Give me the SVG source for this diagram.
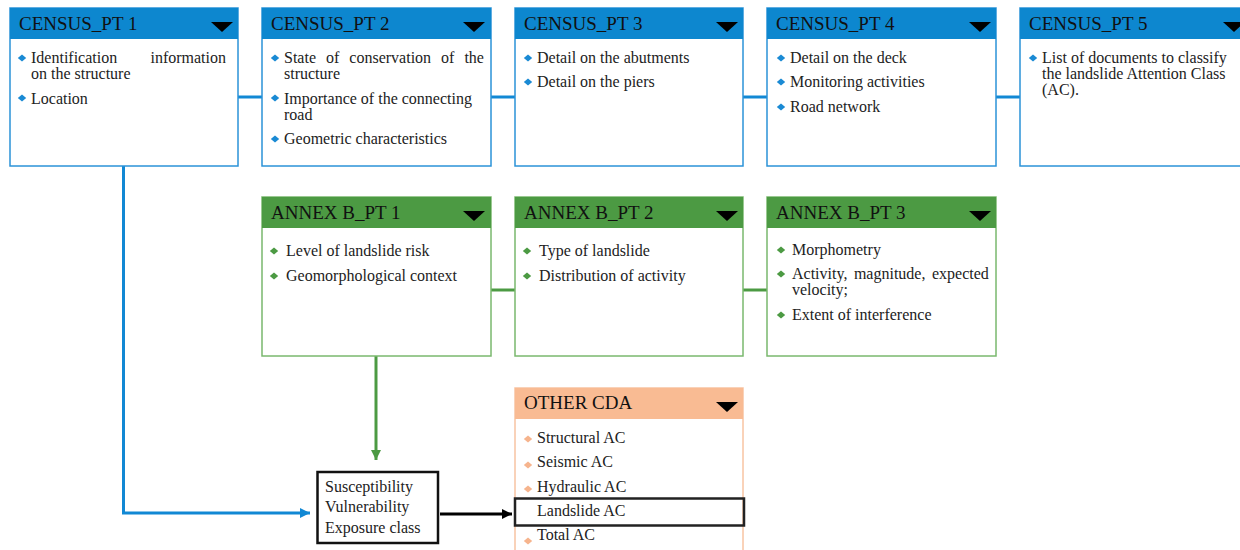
<svg xmlns="http://www.w3.org/2000/svg" xmlns:xlink="http://www.w3.org/1999/xlink" width="1240" height="550" viewBox="0 0 1240 550">
<style>
.title{font-family:"Liberation Serif","Times New Roman",serif;font-size:19px;fill:#111}
.item{font-family:"Liberation Serif","Times New Roman",serif;font-size:16px;fill:#222}
.cbody{fill:#fff;stroke:#2b93d8;stroke-width:1.5}
.chead{fill:#0d87cf}
.abody{fill:#fff;stroke:#7ab86e;stroke-width:1.5}
.ahead{fill:#4c9a43}
.obody{fill:#fff;stroke:#f8c4a2;stroke-width:1.5}
.ohead{fill:#f9bb93}
.tri{fill:#000}
.bb{fill:#1a8ad4}
.bg{fill:#4c9a43}
.bo{fill:#f6b48d}
.cl{fill:none;stroke:#1188d4;stroke-width:3}
.gl{fill:none;stroke:#4c9a43;stroke-width:3}
.kl{fill:none;stroke:#000;stroke-width:3}
</style>
<defs>
<path id="dm" d="M-4.2 0 L0 -3.5 L4.2 0 L0 3.5 Z"/>
<marker id="ab" viewBox="0 0 10 10" refX="10" refY="5" markerWidth="10" markerHeight="10" markerUnits="userSpaceOnUse" orient="auto"><path d="M0 0 L10 5 L0 10 Z" fill="#1188d4"/></marker>
<marker id="ag" viewBox="0 0 10 10" refX="10" refY="5" markerWidth="10" markerHeight="10" markerUnits="userSpaceOnUse" orient="auto"><path d="M0 0 L10 5 L0 10 Z" fill="#4c9a43"/></marker>
<marker id="ak" viewBox="0 0 10 10" refX="10" refY="5" markerWidth="10" markerHeight="10" markerUnits="userSpaceOnUse" orient="auto"><path d="M0 0 L10 5 L0 10 Z" fill="#000"/></marker>
</defs>

<g id="connectors">
<line class="cl" x1="238" y1="97" x2="262" y2="97"/>
<line class="cl" x1="491" y1="97" x2="515" y2="97"/>
<line class="cl" x1="743" y1="97" x2="767" y2="97"/>
<line class="cl" x1="996" y1="97" x2="1020" y2="97"/>
<line class="gl" x1="491" y1="290" x2="515" y2="290"/>
<line class="gl" x1="743" y1="290" x2="767" y2="290"/>
<path class="cl" d="M123.5 166 V513 H310" marker-end="url(#ab)"/>
<path class="gl" d="M376 356 V460" marker-end="url(#ag)"/>
<path class="kl" d="M440 514 H512" marker-end="url(#ak)"/>
</g>

<g id="census1">
<rect class="cbody" x="10" y="8" width="228" height="158"/>
<rect class="chead" x="10" y="8" width="228" height="31"/>
<text class="title" x="19" y="30">CENSUS_PT 1</text>
<polygon class="tri" points="211,22 233,22 222,32"/>
<use href="#dm" class="bb" x="22" y="58"/>
<text class="item" x="31" y="63">Identification</text>
<text class="item" x="226" y="63" text-anchor="end">information</text>
<text class="item" x="31" y="79">on the structure</text>
<use href="#dm" class="bb" x="22" y="98"/>
<text class="item" x="31" y="104">Location</text>
</g>

<g id="census2">
<rect class="cbody" x="262" y="8" width="229" height="158"/>
<rect class="chead" x="262" y="8" width="229" height="31"/>
<text class="title" x="271" y="30">CENSUS_PT 2</text>
<polygon class="tri" points="463,22 485,22 474,32"/>
<use href="#dm" class="bb" x="275" y="58"/>
<text class="item" x="284" y="63" word-spacing="6">State of conservation of the</text>
<text class="item" x="284" y="79">structure</text>
<use href="#dm" class="bb" x="275" y="98"/>
<text class="item" x="284" y="104">Importance of the connecting</text>
<text class="item" x="284" y="120">road</text>
<use href="#dm" class="bb" x="275" y="139"/>
<text class="item" x="284" y="144">Geometric characteristics</text>
</g>

<g id="census3">
<rect class="cbody" x="515" y="8" width="228" height="158"/>
<rect class="chead" x="515" y="8" width="228" height="31"/>
<text class="title" x="524" y="30">CENSUS_PT 3</text>
<polygon class="tri" points="716,22 738,22 727,32"/>
<use href="#dm" class="bb" x="528" y="58"/>
<text class="item" x="537" y="63">Detail on the abutments</text>
<use href="#dm" class="bb" x="528" y="82"/>
<text class="item" x="537" y="87">Detail on the piers</text>
</g>

<g id="census4">
<rect class="cbody" x="767" y="8" width="229" height="158"/>
<rect class="chead" x="767" y="8" width="229" height="31"/>
<text class="title" x="776" y="30">CENSUS_PT 4</text>
<polygon class="tri" points="969,22 991,22 980,32"/>
<use href="#dm" class="bb" x="781" y="58"/>
<text class="item" x="790" y="63">Detail on the deck</text>
<use href="#dm" class="bb" x="781" y="82"/>
<text class="item" x="790" y="87">Monitoring activities</text>
<use href="#dm" class="bb" x="781" y="107"/>
<text class="item" x="790" y="112">Road network</text>
</g>

<g id="census5">
<rect class="cbody" x="1020" y="8" width="230" height="158"/>
<rect class="chead" x="1020" y="8" width="230" height="31"/>
<text class="title" x="1029" y="30">CENSUS_PT 5</text>
<polygon class="tri" points="1223,22 1245,22 1234,32"/>
<use href="#dm" class="bb" x="1033" y="58"/>
<text class="item" x="1042" y="63">List of documents to classify</text>
<text class="item" x="1042" y="79">the landslide Attention Class</text>
<text class="item" x="1042" y="95">(AC).</text>
</g>

<g id="annex1">
<rect class="abody" x="262" y="197" width="229" height="159"/>
<rect class="ahead" x="262" y="197" width="229" height="31"/>
<text class="title" x="271" y="219">ANNEX B_PT 1</text>
<polygon class="tri" points="463,211 485,211 474,221"/>
<use href="#dm" class="bg" x="274" y="251"/>
<text class="item" x="286" y="256">Level of landslide risk</text>
<use href="#dm" class="bg" x="274" y="276"/>
<text class="item" x="286" y="281">Geomorphological context</text>
</g>

<g id="annex2">
<rect class="abody" x="515" y="197" width="228" height="159"/>
<rect class="ahead" x="515" y="197" width="228" height="31"/>
<text class="title" x="524" y="219">ANNEX B_PT 2</text>
<polygon class="tri" points="716,211 738,211 727,221"/>
<use href="#dm" class="bg" x="527" y="251"/>
<text class="item" x="539" y="256">Type of landslide</text>
<use href="#dm" class="bg" x="527" y="276"/>
<text class="item" x="539" y="281">Distribution of activity</text>
</g>

<g id="annex3">
<rect class="abody" x="767" y="197" width="229" height="159"/>
<rect class="ahead" x="767" y="197" width="229" height="31"/>
<text class="title" x="776" y="219">ANNEX B_PT 3</text>
<polygon class="tri" points="969,211 991,211 980,221"/>
<use href="#dm" class="bg" x="781" y="250"/>
<text class="item" x="792" y="255">Morphometry</text>
<use href="#dm" class="bg" x="781" y="274"/>
<text class="item" x="792" y="279" word-spacing="2.5">Activity, magnitude, expected</text>
<text class="item" x="792" y="295">velocity;</text>
<use href="#dm" class="bg" x="781" y="315"/>
<text class="item" x="792" y="320">Extent of interference</text>
</g>

<g id="otherCDA">
<rect class="obody" x="515" y="388" width="228" height="170"/>
<rect class="ohead" x="515" y="388" width="228" height="31"/>
<text class="title" x="524" y="409">OTHER CDA</text>
<polygon class="tri" points="716,402 738,402 727,412"/>
<use href="#dm" class="bo" x="528" y="439"/>
<text class="item" x="537" y="443">Structural AC</text>
<use href="#dm" class="bo" x="528" y="465"/>
<text class="item" x="537" y="467">Seismic AC</text>
<use href="#dm" class="bo" x="528" y="489"/>
<text class="item" x="537" y="492">Hydraulic AC</text>
<use href="#dm" class="bo" x="528" y="541"/>
<text class="item" x="537" y="540">Total AC</text>
</g>

<g id="landslideAC">
<rect x="515" y="498.5" width="229" height="27" fill="none" stroke="#222" stroke-width="2.5"/>
<text class="item" x="537" y="516">Landslide AC</text>
</g>

<g id="susceptibility">
<rect x="317.5" y="472" width="120.5" height="71" fill="#fff" stroke="#111" stroke-width="2.5"/>
<text class="item" x="325" y="492">Susceptibility</text>
<text class="item" x="325" y="512">Vulnerability</text>
<text class="item" x="325" y="533">Exposure class</text>
</g>
</svg>
